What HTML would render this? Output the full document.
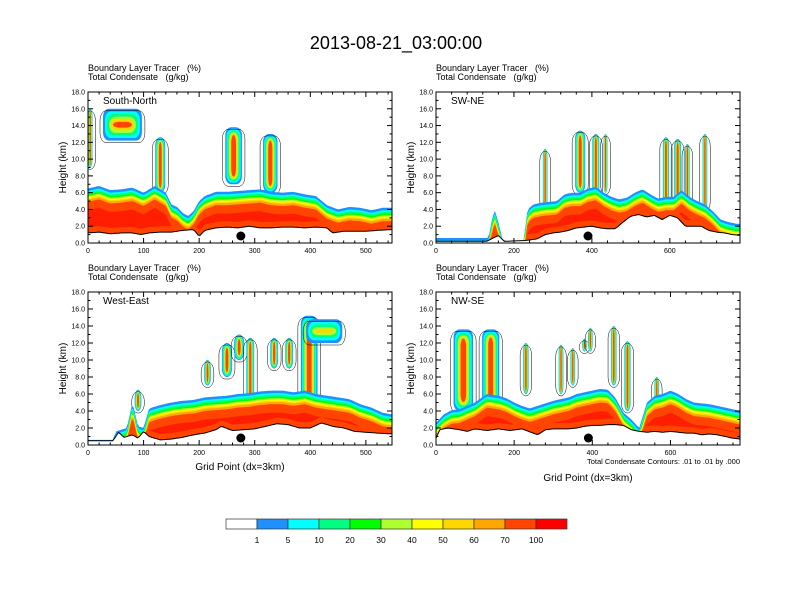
<!DOCTYPE html>
<html><head><meta charset="utf-8"><style>
body{margin:0;background:#fff;}
svg{display:block;font-family:"Liberation Sans",Arial,sans-serif;}
</style></head><body>
<svg id="s" width="792" height="612" viewBox="0 0 792 612">
<text x="396" y="49" text-anchor="middle" font-size="18">2013-08-21_03:00:00</text>
</svg>
<script>
// ---- data: per-panel profiles (grid point, km) ----
const p1X=[0,20,40,60,80,95,110,130,150,170,190,200,210,230,250,270,290,310,330,350,370,390,410,430,440,460,480,500,520,547];
const p1Terrain=[1.2,1.3,1.1,1.2,1.2,1.0,1.2,1.3,1.3,1.5,1.6,0.8,1.5,1.8,1.9,1.8,2.0,1.8,1.8,1.9,1.9,1.8,1.9,1.8,1.2,1.4,1.4,1.4,1.5,1.6];
const p1TopX=[0,20,40,60,80,100,120,140,150,160,170,180,190,200,210,230,250,270,290,310,330,350,370,390,410,430,450,470,490,510,530,547];
const p1Top=[6.5,6.8,6.3,6.4,6.6,6.0,6.8,6.0,4.6,4.3,3.6,3.2,3.8,5.0,5.6,6.1,6.1,6.2,6.3,6.4,6.1,6.0,6.1,5.8,5.6,4.5,4.0,4.3,4.2,3.9,4.2,4.2];
const p1Plumes=[[62,12.2,16.0,70],[130,6,12.6,18],[262,7,13.8,30],[328,6,13,26],[4,9,16,8]];

const p2X=[0,130,160,175,230,260,280,300,320,340,360,380,400,420,440,460,480,500,520,540,560,580,600,620,640,660,680,700,720,740,760,780];
const p2Terrain=[0.2,0.2,0.9,0.2,0.3,0.5,1.0,1.2,1.3,1.5,1.8,1.9,2.0,1.8,1.7,1.7,2.5,3.2,3.4,3.1,3.3,2.8,3.3,3.0,2.0,2.0,2.0,1.5,1.3,1.2,1.0,0.9];
const p2TopX=[0,120,135,140,150,160,170,180,225,235,250,270,290,310,330,350,370,390,410,430,450,470,490,510,530,550,570,590,610,630,650,670,690,710,730,750,770,780];
const p2Top=[0.6,0.6,0.6,2.0,4.0,2.5,0.5,0.2,0.3,4.0,4.6,4.8,4.9,5.0,5.8,6.0,6.0,6.5,6.7,6.0,5.5,5.2,5.4,6.0,6.4,5.8,5.3,5.5,5.5,6.3,5.5,5.0,4.6,3.8,2.8,2.5,2.3,2.3];
const p2Plumes=[[280,4,11.2,12],[370,6,13.4,26],[410,5,13,18],[435,6,13,10],[590,4,12.6,16],[620,4,12.4,18],[645,4,11.8,12],[690,4,13,12]];

const p3X=[0,45,55,65,80,90,100,110,130,150,170,190,210,230,240,260,280,300,320,340,360,380,400,420,440,460,480,500,520,547];
const p3Terrain=[0.5,0.5,1.5,0.9,1.2,0.8,1.6,1.0,0.6,0.7,0.9,1.2,1.4,1.8,2.2,1.7,1.8,1.9,2.2,2.5,2.4,2.0,2.0,2.6,2.2,2.0,1.6,1.5,1.4,1.3];
const p3TopX=[0,45,50,70,80,90,100,110,130,150,170,190,210,230,250,270,290,310,330,350,370,390,410,430,450,470,490,510,530,547];
const p3Top=[0.6,0.6,1.6,2.0,5.0,2.2,2.0,4.3,4.7,5.0,5.2,5.3,5.6,5.7,5.8,6.0,6.1,6.3,6.4,6.4,6.2,6.4,6.0,5.8,5.6,5.4,4.8,4.4,3.8,3.6];
const p3Plumes=[[90,4,6.5,12],[215,7,10,12],[250,8,12,18],[272,10,13,18],[292,5,12.6,14],[335,9,12.6,14],[362,9,12.6,14],[398,3,15.2,30],[425,12,14.8,65]];

const p4X=[0,10,30,60,80,100,130,160,190,220,260,280,300,340,360,380,400,420,440,460,480,500,520,540,560,580,600,620,640,660,680,700,720,740,760,778];
const p4Terrain=[0.8,1.8,2.0,1.8,1.6,1.9,1.7,1.9,1.7,1.9,1.2,1.8,1.9,1.9,2.0,2.2,2.3,2.3,2.4,2.4,2.3,1.8,1.6,1.5,1.6,1.5,1.6,1.5,1.4,1.4,1.2,1.3,1.2,1.0,0.8,0.7];
const p4TopX=[0,20,40,60,80,100,130,160,180,200,220,240,260,280,300,320,340,360,380,400,420,440,460,480,500,520,540,560,580,600,620,640,660,680,700,720,740,760,778];
const p4Top=[2.6,3.6,4.1,4.2,4.6,5.0,6.0,5.8,5.5,5.0,4.6,4.3,4.6,4.9,5.2,5.4,5.6,6.0,6.2,6.4,6.6,6.5,5.5,3.8,3.0,2.0,5.0,5.8,6.0,6.4,6.0,5.4,5.0,4.9,4.8,4.6,4.4,4.2,4.0];
const p4Plumes=[[70,4,13.6,50],[140,4,13.6,44],[230,6,12,14],[320,6,11.8,12],[350,7,11.4,12],[380,11,12.5,12],[395,11,13.8,12],[455,7,14,14],[490,4,12.2,16],[565,5,8,12]];

const yTicks=[0,2,4,6,8,10,12,14,16,18];
const cbLabels=["1","5","10","20","30","40","50","60","70","100"];
const palette=["#ffffff","#1e90ff","#00ffff","#00ff80","#00ff00","#adff2f","#ffff00","#ffd700","#ffa500","#ff4500","#ff0000"];

const panels=[
 {name:"south-north",title:"South-North",L:88,R:392,T:92,B:243,xmax:547,xt:[0,100,200,300,400,500],X:p1X,terr:p1Terrain,TX:p1TopX,top:p1Top,pl:p1Plumes,dot:275,xlab:false},
 {name:"sw-ne",title:"SW-NE",L:436,R:740,T:92,B:243,xmax:780,xt:[0,200,400,600],X:p2X,terr:p2Terrain,TX:p2TopX,top:p2Top,pl:p2Plumes,dot:390,xlab:false},
 {name:"west-east",title:"West-East",L:88,R:392,T:292,B:445,xmax:547,xt:[0,100,200,300,400,500],X:p3X,terr:p3Terrain,TX:p3TopX,top:p3Top,pl:p3Plumes,dot:275,xlab:true},
 {name:"nw-se",title:"NW-SE",L:436,R:740,T:292,B:445,xmax:778,xt:[0,200,400,600],X:p4X,terr:p4Terrain,TX:p4TopX,top:p4Top,pl:p4Plumes,dot:390,xlab:true}
];
const NS="http://www.w3.org/2000/svg";
const svg=document.getElementById('s');
function mk(tag,attrs,parent){const e=document.createElementNS(NS,tag);for(const k in attrs)e.setAttribute(k,attrs[k]);(parent||svg).appendChild(e);return e;}
function interp(xs,ys,x){if(x<=xs[0])return ys[0];for(let i=1;i<xs.length;i++){if(x<=xs[i]){const t=(x-xs[i-1])/(xs[i]-xs[i-1]);return ys[i-1]+t*(ys[i]-ys[i-1]);}}return ys[ys.length-1];}

const bandOff=[0,0.3,0.5,0.7,0.9,1.05,1.2,1.35,1.6];
const bandCol=["#1e90ff","#00ffff","#00ff80","#00ff00","#adff2f","#ffff00","#ffd700","#ffa500","#ff4500"];

panels.forEach((p,pi)=>{
 const g=mk('g',{});
 
 
 const sx=v=>p.L+(p.R-p.L)*v/p.xmax;
 const sy=v=>p.B-(p.B-p.T)*v/18;
 const cid='clip'+pi;
 const cp=mk('clipPath',{id:cid},g);mk('rect',{x:p.L,y:p.T,width:p.R-p.L,height:p.B-p.T},cp);
 const plot=mk('g',{'clip-path':'url(#'+cid+')'},g);
 
 
 const N=160;const xs=[];for(let i=0;i<=N;i++)xs.push(p.xmax*i/N);
 const pc=["#1e90ff","#00ffff","#00ff80","#adff2f","#ffd700","#ff4500"];
 // plumes first (behind BL)
 p.pl.forEach((q,qi)=>{
  const [cx,b,t,w]=q;
  const x0=sx(cx-w/2),x1=sx(cx+w/2),y0=sy(t),y1=sy(b);
  const pg=mk('g',{},plot);
  
  
  pc.forEach((c,k)=>{
   const inset=k*Math.min((x1-x0)/14,2.0);
   const ww=x1-x0-2*inset,hh=y1-y0-2*inset*1.3;
   if(ww<=0||hh<=0)return;
   mk('rect',{x:x0+inset,y:y0+inset*1.3,width:ww,height:hh,rx:Math.min(ww/2,6),ry:Math.min(hh/2,8),fill:c},pg);
  });
  mk('rect',{x:x0-3,y:y0+2,width:x1-x0+6,height:y1-y0,rx:6,ry:10,fill:"none",stroke:"#000","stroke-width":0.5},pg);
 });
 // BL bands
 bandCol.forEach((c,bi)=>{
  let up=[],lo=[];
  xs.forEach(x=>{const tr=interp(p.X,p.terr,x);let u=interp(p.TX,p.top,x)-bandOff[bi];if(u<tr)u=tr;up.push(sx(x).toFixed(1)+','+sy(u).toFixed(1));lo.push(sx(x).toFixed(1)+','+sy(tr).toFixed(1));});
  const poly=mk('polygon',{points:up.concat(lo.reverse()).join(' '),fill:c},plot);
  
  
 });
 // red core
 {let up=[],lo=[];
  xs.forEach(x=>{const tr=interp(p.X,p.terr,x);let u=interp(p.TX,p.top,x)-2.6;const l=tr+0.7;if(u<l)u=l;up.push(sx(x).toFixed(1)+','+sy(u).toFixed(1));lo.push(sx(x).toFixed(1)+','+sy(l).toFixed(1));});
  const poly=mk('polygon',{points:up.concat(lo.reverse()).join(' '),fill:"#ff0000",opacity:0.55},plot);
  
  }
 // terrain white + line
 {let tp=[];xs.forEach(x=>tp.push(sx(x).toFixed(1)+','+sy(interp(p.X,p.terr,x)).toFixed(1)));
  const w=mk('polygon',{points:tp.join(' ')+' '+p.R+','+p.B+' '+p.L+','+p.B,fill:"#fff"},plot);
  
  
  const tl=mk('polyline',{points:tp.join(' '),fill:"none",stroke:"#000","stroke-width":1},plot);
  
  }
 const dot=mk('circle',{cx:sx(p.dot),cy:p.B-7,r:4.5,fill:"#000"},g);
 
 
 // frame
 const fr=mk('rect',{x:p.L,y:p.T,width:p.R-p.L,height:p.B-p.T,fill:"none",stroke:"#000","stroke-width":1},g);
 
 
 yTicks.forEach(v=>{const y=sy(v);
  mk('line',{x1:p.L,x2:p.L+5,y1:y,y2:y,stroke:"#000"},g);mk('line',{x1:p.R,x2:p.R-5,y1:y,y2:y,stroke:"#000"},g);
  const t=mk('text',{x:p.L-3,y:y+2.5,'font-size':7,'text-anchor':'end'},g);t.textContent=v.toFixed(1);
  
  
  if(v<18){const ym=sy(v+1);mk('line',{x1:p.L,x2:p.L+2.5,y1:ym,y2:ym,stroke:"#000"},g);mk('line',{x1:p.R,x2:p.R-2.5,y1:ym,y2:ym,stroke:"#000"},g);}
 });
 const step=p.xt[1]-p.xt[0];
 for(let v=0;v<=p.xmax;v+=step/5){const x=sx(v);const maj=Math.abs(v/step-Math.round(v/step))<1e-6;const len=maj?5:2.5;
  mk('line',{x1:x,x2:x,y1:p.B,y2:p.B-len,stroke:"#000"},g);mk('line',{x1:x,x2:x,y1:p.T,y2:p.T+len,stroke:"#000"},g);}
 p.xt.forEach(v=>{const t=mk('text',{x:sx(v),y:p.B+10,'font-size':7,'text-anchor':'middle'},g);t.textContent=v;
  
  });
 const yl=mk('text',{x:p.L-22,y:(p.T+p.B)/2,'font-size':10,'text-anchor':'middle',transform:`rotate(-90 ${p.L-22} ${(p.T+p.B)/2})`},g);yl.textContent="Height (km)";
 
 
 const h1=mk('text',{x:p.L,y:p.T-21,'font-size':9},g);h1.textContent="Boundary Layer Tracer\u00a0\u00a0\u00a0(%)";
 
 
 const h2=mk('text',{x:p.L,y:p.T-12,'font-size':9},g);h2.textContent="Total Condensate\u00a0\u00a0\u00a0(g/kg)";
 
 
 const tt=mk('text',{x:p.L+15,y:p.T+12,'font-size':10},g);tt.textContent=p.title;
 
 
 if(p.xlab){const xl=mk('text',{x:(p.L+p.R)/2,y:p.B+(pi==3?36:25),'font-size':10,'text-anchor':'middle'},g);xl.textContent="Grid Point (dx=3km)";
  
  }
 if(pi==3){const c=mk('text',{x:p.R,y:p.B+19,'font-size':7.5,'text-anchor':'end'},g);c.textContent="Total Condensate Contours: .01 to .01 by .000";
  
  }
});
const cb=mk('g',{});


const cbL=226,cbW=31,cbT=519,cbH=10;
palette.forEach((c,i)=>{const r=mk('rect',{x:cbL+i*cbW,y:cbT,width:cbW,height:cbH,fill:c,stroke:"#333","stroke-width":0.7},cb);
 
 });
cbLabels.forEach((l,i)=>{const t=mk('text',{x:cbL+(i+1)*cbW,y:543,'font-size':8.5,'text-anchor':'middle'},cb);t.textContent=l;
 
 });
</script>
</body></html>
